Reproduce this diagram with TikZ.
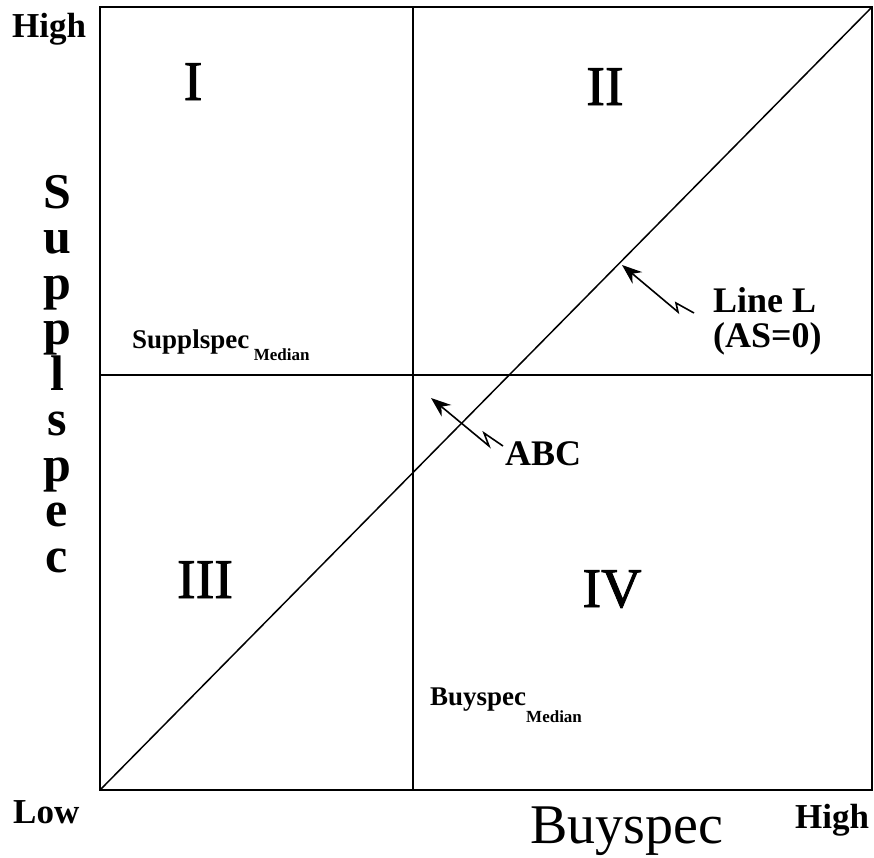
\documentclass[tikz,border=0pt]{standalone}
\usepackage{fontspec}
\setmainfont{Liberation Serif}
\newfontfamily\heavyroman[FakeBold=1.6]{Liberation Serif}
\usetikzlibrary{arrows.meta}
\begin{document}
\begin{tikzpicture}[x=1pt,y=-1pt,
  txt/.style={inner sep=0pt, anchor=base west},
  mid/.style={inner sep=0pt, anchor=base},
  axlbl/.style={txt, font=\bfseries\fontsize{35}{35}\selectfont},
  roman/.style={mid, font=\heavyroman\fontsize{56}{56}\selectfont},
  vlet/.style={mid, font=\bfseries\fontsize{50}{50}\selectfont},
  small/.style={txt, font=\bfseries\fontsize{27}{27}\selectfont},
  callout/.style={txt, font=\bfseries\fontsize{36}{36}\selectfont},
  frame/.style={line width=1.8pt},
  divider/.style={line width=1.5pt},
  pointer/.style={line width=1.6pt, line join=miter, -{Stealth[length=20pt,width=15pt]}}
]
\useasboundingbox (0,0) rectangle (874,857);
% frame
\coordinate (tl) at (100,7);
\coordinate (br) at (872,790);
\coordinate (bl) at (100,790);
\coordinate (tr) at (872,7);
\coordinate (vt) at (413,7);
\coordinate (vb) at (413,790);
\coordinate (hl) at (100,375);
\coordinate (hr) at (872,375);
\draw[frame] (tl) rectangle (br);
\draw[divider] (vt) -- (vb);
\draw[divider] (hl) -- (hr);
\draw[divider] (bl) -- (tr);
% axis labels
\node[axlbl] (hightop) at (12,37) {High};
\node[axlbl] (low) at (13,823) {Low};
\node[axlbl] (highright) at (795,828) {High};
\node[txt, font=\fontsize{56}{56}\selectfont] (buyspec) at (530,843) {Buyspec};
% vertical Supplspec
\node[vlet] (v1) at (57,208) {S};
\node[vlet] (v2) at (57,253.5) {u};
\node[vlet] (v3) at (57,299) {p};
\node[vlet] (v4) at (57,344.5) {p};
\node[vlet] (v5) at (57,390) {l};
\node[vlet] (v6) at (57,435.5) {s};
\node[vlet] (v7) at (57,481) {p};
\node[vlet] (v8) at (57,526.5) {e};
\node[vlet] (v9) at (57,572) {c};
% quadrants
\node[roman] (q1) at (193,100) {I};
\node[roman] (q2) at (605,105) {II};
\node[roman] (q3) at (205,598) {III};
\node[roman] (q4) at (612,607) {IV};
% medians
\node[small] (smed) at (132,348) {Supplspec\,\raisebox{-12pt}{\fontsize{17}{17}\selectfont Median}};
\node[small] (bmed) at (430,705) {Buyspec\raisebox{-17pt}{\fontsize{17}{17}\selectfont Median}};
% callouts
\node[callout] (abc) at (505,465) {ABC};
\node[callout] (linel) at (713,312) {Line L};
\node[callout] (as0) at (713,347) {(AS=0)};
\coordinate (abcC) at (503,446);
\coordinate (abcB) at (484,433);
\coordinate (abcA) at (489,446);
\coordinate (abcT) at (431,398);
\draw[pointer] (abcC) -- (abcB) -- (abcA) -- (abcT);
\coordinate (lC) at (694,313);
\coordinate (lB) at (676,303);
\coordinate (lA) at (678,312);
\coordinate (lT) at (622,265);
\draw[pointer] (lC) -- (lB) -- (lA) -- (lT);
\end{tikzpicture}
\end{document}
